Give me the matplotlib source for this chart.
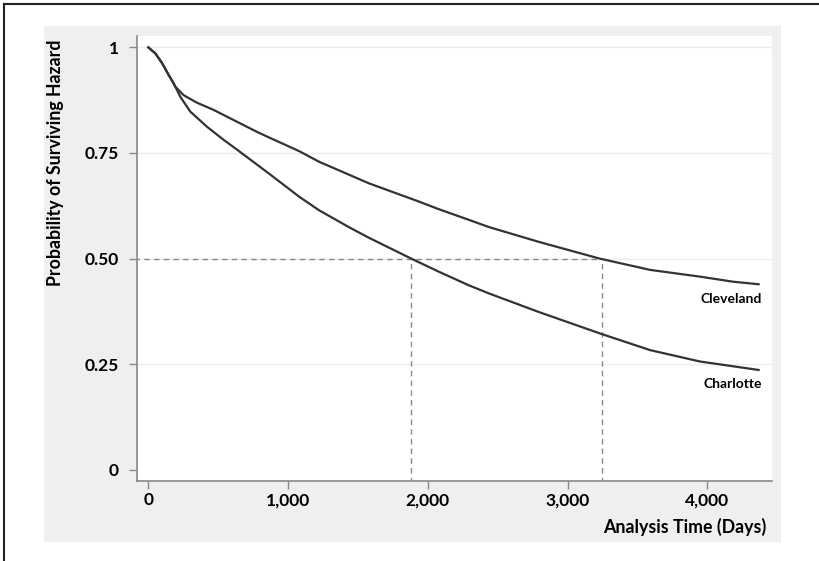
import matplotlib.pyplot as plt
from matplotlib.patches import Rectangle
from matplotlib.lines import Line2D

# values
days_cle = [0, 50, 98, 145, 181, 193, 252, 348, 467, 610, 777, 868, 962, 1081,
            1223, 1579, 1935, 2077, 2290, 2432, 2788, 3227, 3591, 3948, 4185, 4367]
cleveland = [1.0, 0.986, 0.963, 0.935, 0.915, 0.907, 0.887, 0.869, 0.852, 0.828,
             0.800, 0.786, 0.772, 0.754, 0.729, 0.678, 0.635, 0.617, 0.592, 0.575,
             0.540, 0.500, 0.473, 0.457, 0.445, 0.439]

days_cha = [0, 50, 98, 145, 181, 193, 229, 300, 420, 539, 622, 868, 1081, 1223,
            1437, 1579, 1880, 2077, 2290, 2432, 2788, 3245, 3591, 3948, 4367]
charlotte = [1.0, 0.986, 0.963, 0.935, 0.915, 0.907, 0.883, 0.848, 0.812, 0.781,
             0.761, 0.700, 0.646, 0.614, 0.574, 0.549, 0.500, 0.469, 0.437, 0.418,
             0.374, 0.321, 0.283, 0.256, 0.236]

median_cha = 1880
median_cle = 3245
yticks = [0, 0.25, 0.5, 0.75, 1]
yticklabels = ['0', '0.25', '0.50', '0.75', '1']
xticks = [0, 1000, 2000, 3000, 4000]
xticklabels = ['0', '1,000', '2,000', '3,000', '4,000']

plt.rcParams['font.family'] = ['Lato', 'DejaVu Sans']
plt.rcParams['font.weight'] = 'bold'

W, H = 820, 561
fig = plt.figure(figsize=(W / 100, H / 100), dpi=100)

# gray panel behind the axes
panel = Rectangle((44 / W, 1 - 542 / H), (781 - 44) / W, (542 - 26) / H,
                  transform=fig.transFigure, facecolor='#efefef',
                  edgecolor='none', zorder=-10)
fig.add_artist(panel)
# outer frame (top and left)
fig.add_artist(Line2D([4 / W, 1], [1 - 4 / H, 1 - 4 / H], transform=fig.transFigure,
                      color='#222222', lw=1.5))
fig.add_artist(Line2D([4 / W, 4 / W], [0, 1 - 4 / H], transform=fig.transFigure,
                      color='#222222', lw=1.5))

ax = fig.add_axes([137 / W, 1 - 481 / H, (772 - 137) / W, (481 - 36) / H])
ax.set_facecolor('white')

for y in [0.25, 0.5, 0.75, 1]:
    ax.axhline(y, color='#ececec', lw=1, zorder=1)

ax.plot(days_cle, cleveland, color='#333333', lw=1.6, zorder=3,
        solid_joinstyle='round')
ax.plot(days_cha, charlotte, color='#333333', lw=1.6, zorder=3,
        solid_joinstyle='round')

dash = dict(color='#8a8a8a', lw=1, ls=(0, (4, 3)), zorder=2)
ax.plot([-100, median_cle], [0.5, 0.5], **dash)
ax.plot([median_cha, median_cha], [-0.1, 0.5], **dash)
ax.plot([median_cle, median_cle], [-0.1, 0.5], **dash)

ax.text(days_cle[-1] + 25, cleveland[-1] - 0.02, 'Cleveland', ha='right', va='top',
        fontsize=10, fontweight='bold')
ax.text(days_cha[-1] + 25, charlotte[-1] - 0.02, 'Charlotte', ha='right', va='top',
        fontsize=10, fontweight='bold')

ax.set_xlim(-81, 4463)
ax.set_ylim(-0.027, 1.027)
ax.set_xticks(xticks)
ax.set_xticklabels(xticklabels)
ax.set_yticks(yticks)
ax.set_yticklabels(yticklabels)
ax.tick_params(axis='both', colors='#888888', labelcolor='black', labelsize=12.5,
               length=6, width=1)
ax.tick_params(axis='y', pad=7)
ax.tick_params(axis='x', pad=2)
for s in ['top', 'right']:
    ax.spines[s].set_visible(False)
for s in ['left', 'bottom']:
    ax.spines[s].set_color('#888888')
    ax.spines[s].set_linewidth(1.2)

fig.text(56 / W, 1 - 163 / H, 'Probability of Surviving Hazard', rotation=90,
         ha='center', va='center', fontsize=12.8, fontweight='bold')
fig.text(766 / W, 1 - 527 / H, 'Analysis Time (Days)', ha='right', va='center',
         fontsize=12.8, fontweight='bold')

fig.savefig('out.png', dpi=100, facecolor='white')
